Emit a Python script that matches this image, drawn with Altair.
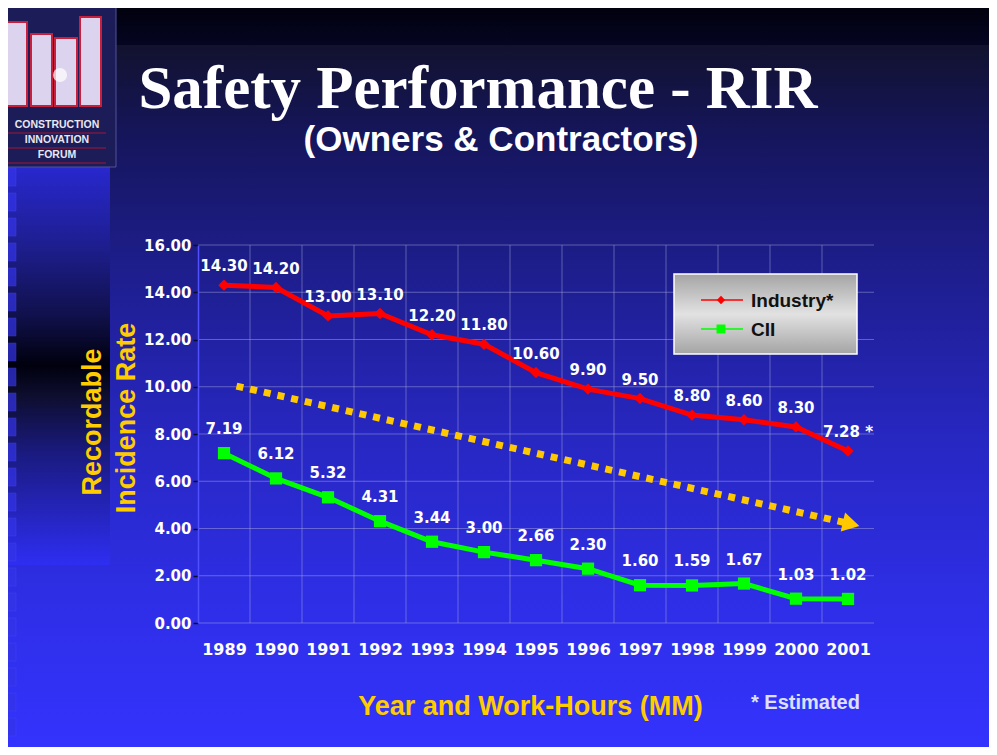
import altair as alt
import pandas as pd

# ---------------- data ----------------
years = [1989, 1990, 1991, 1992, 1993, 1994, 1995, 1996, 1997, 1998, 1999, 2000, 2001]
industry = [14.30, 14.20, 13.00, 13.10, 12.20, 11.80, 10.60, 9.90, 9.50, 8.80, 8.60, 8.30, 7.28]
cii = [7.19, 6.12, 5.32, 4.31, 3.44, 3.00, 2.66, 2.30, 1.60, 1.59, 1.67, 1.03, 1.02]
estimated = [False] * 12 + [True]
series_names = ["Industry*", "CII"]
series_colors = ["#ff0000", "#00ff00"]
y_ticks = [0, 2, 4, 6, 8, 10, 12, 14, 16]
trend_years = [1989.24, 2001.06]
trend_values = [10.03, 4.19]

# ---------------- layout ----------------
W, H = 676, 378
PAD = {"left": 190, "top": 237, "right": 115, "bottom": 124}
OX, OY = 198, 245  # page position of plot origin
PX_PER_UNIT = H / 16.0


def px(x):
    return alt.value(x - OX)


def py(y):
    return alt.value(y - OY)


xscale = alt.Scale(domain=[1988.5, 2001.5], nice=False, zero=False)
yscale = alt.Scale(domain=[0, 16], nice=False)

xaxis = alt.Axis(values=years, format="d", grid=False, ticks=False, tickSize=0, domain=False,
                 labelColor="white", labelFont="DejaVu Sans", labelFontWeight="bold",
                 labelFontSize=16, labelPadding=18, labelFlush=False,
                 title="Year and Work-Hours (MM)", titleColor="#ffcc00",
                 titleFont="Liberation Sans", titleFontWeight="bold", titleFontSize=27,
                 titlePadding=36, titleX=332, zindex=1)
yaxis = alt.Axis(values=y_ticks, format=".2f", grid=False, ticks=True, tickSize=5,
                 tickColor="#0c0c2a", tickWidth=1.5, domain=True, domainColor="#5050ff",
                 domainWidth=1.5, labelColor="white", labelFont="DejaVu Sans",
                 labelFontWeight="bold", labelFontSize=15, labelPadding=2, title=None,
                 zindex=1)


def X(field):
    return alt.X(field, type="quantitative", scale=xscale, axis=xaxis)


def Y(field):
    return alt.Y(field, type="quantitative", scale=yscale, axis=yaxis)


one = pd.DataFrame({"a": [0]})


def grad(stops, vertical=True):
    return alt.LinearGradient(
        gradient="linear",
        stops=[alt.GradientStop(offset=o, color=c) for o, c in stops],
        x1=0, y1=0, x2=0 if vertical else 1, y2=1 if vertical else 0)


# ---------------- background ----------------
bg_top = alt.Chart(one).mark_rect(fill=grad([(0, "#00000a"), (1, "#050522")])).encode(
    x=px(0), x2=px(1000), y=py(0), y2=py(45))
bg_main = alt.Chart(one).mark_rect(fill=grad([
    (0, "#12122e"), (0.12, "#15155a"), (0.3, "#1d1d8a"), (0.55, "#2727c2"),
    (0.8, "#2f2fea"), (1, "#3333ff")])).encode(
    x=px(0), x2=px(1000), y=py(45), y2=py(760))
bg_left = alt.Chart(one).mark_rect(fill=grad([
    (0, "#2828d0"), (0.2, "#1e1e90"), (0.38, "#10104a"), (0.5, "#00000e"),
    (0.58, "#0e0e30"), (0.72, "#1a1a80"), (1, "#2e2ef2")])).encode(
    x=px(0), x2=px(110), y=py(165), y2=py(565))

# decorative squares along the left edge (page rows converted to axis units)
deco_rows = list(range(168, 720, 25))
deco = alt.Chart(pd.DataFrame({"r": deco_rows})).transform_calculate(
    v1=f"({OY + H} - datum.r) / {PX_PER_UNIT}",
    v2=f"({OY + H} - datum.r - 18) / {PX_PER_UNIT}").mark_rect(
    fill="#3434e8", opacity=0.7, stroke="#4a4aff", strokeWidth=0.5).encode(
    x=px(0), x2=px(16), y=Y("v1"), y2="v2:Q")

# logo
logo_box = alt.Chart(one).mark_rect(fill="#1c1c58", stroke="#50509a", strokeWidth=1).encode(
    x=px(0), x2=px(116), y=py(0), y2=py(167))
logo_layers = [logo_box]
for (x0, y0, x1) in [(6, 22, 27), (31, 34, 52), (55, 38, 77), (80, 17, 101)]:
    logo_layers.append(alt.Chart(one).mark_rect(fill="#dcd4ee", stroke="#c8203c", strokeWidth=2).encode(
        x=px(x0), x2=px(x1), y=py(y0), y2=py(106)))
logo_layers.append(alt.Chart(one).mark_point(shape="circle", filled=True, color="#ffffff", size=200).encode(
    x=px(60), y=py(75)))
for i, t in enumerate(["CONSTRUCTION", "INNOVATION", "FORUM"]):
    logo_layers.append(alt.Chart(one).mark_text(text=t, font="Liberation Sans", fontWeight="bold",
                                                fontSize=10.5, color="#e8e8f0").encode(
        x=px(57), y=py(125 + i * 15)))
    logo_layers.append(alt.Chart(one).mark_rule(color="#a01830", strokeWidth=1).encode(
        x=px(6), x2=px(106), y=py(133 + i * 15)))

# ---------------- grid ----------------
hgrid = alt.Chart(pd.DataFrame({"v": y_ticks})).mark_rule(
    color="#b0b0e0", strokeWidth=1, opacity=0.45).encode(
    y=Y("v"), x=alt.value(0), x2=alt.value(W))
vgrid = alt.Chart(pd.DataFrame({"yr": years[1:]})).transform_calculate(
    b="datum.yr - 0.5").mark_rule(color="#b0b0e0", strokeWidth=1, opacity=0.45).encode(
    x=X("b"), y=alt.value(0), y2=alt.value(H))

# ---------------- trend arrow ----------------
trend_df = pd.DataFrame({"yr": trend_years, "v": trend_values})
trend = alt.Chart(trend_df).mark_line(color="#ffc800", strokeWidth=7, strokeDash=[7, 7],
                                      strokeCap="butt").encode(x=X("yr"), y=Y("v"))
arrow = alt.Chart(trend_df.tail(1)).mark_point(shape="triangle-right", filled=True, opacity=1,
                                               color="#ffc800", size=380, angle=13).encode(
    x=X("yr"), y=Y("v"))

# ---------------- series ----------------
ind_labels = [f"{v:.2f}" + (" *" if e else "") for v, e in zip(industry, estimated)]
cii_labels = [f"{v:.2f}" for v in cii]
ind_df = pd.DataFrame({"yr": years, "v": industry, "lab": ind_labels})
cii_df = pd.DataFrame({"yr": years, "v": cii, "lab": cii_labels})

ind_line = alt.Chart(ind_df).mark_line(color=series_colors[0], strokeWidth=5).encode(x=X("yr"), y=Y("v"))
ind_pts = alt.Chart(ind_df).mark_point(shape="diamond", filled=True, opacity=1, size=130,
                                       color=series_colors[0]).encode(x=X("yr"), y=Y("v"))
cii_line = alt.Chart(cii_df).mark_line(color=series_colors[1], strokeWidth=5).encode(x=X("yr"), y=Y("v"))
cii_pts = alt.Chart(cii_df).mark_point(shape="square", filled=True, opacity=1, size=150,
                                       color=series_colors[1]).encode(x=X("yr"), y=Y("v"))

lab_style = dict(font="DejaVu Sans", fontWeight="bold", fontSize=15, color="white",
                 align="center", baseline="middle")
ind_text = alt.Chart(ind_df).mark_text(dy=-19, **lab_style).encode(x=X("yr"), y=Y("v"), text="lab:N")
cii_text = alt.Chart(cii_df).mark_text(dy=-24, **lab_style).encode(x=X("yr"), y=Y("v"), text="lab:N")

# ---------------- legend ----------------
leg_box = alt.Chart(one).mark_rect(fill=grad([(0, "#a4a4a4"), (0.5, "#e2e2e2"), (1, "#a4a4a4")]),
                                   stroke="#ffffff", strokeWidth=1.5).encode(
    x=px(674), x2=px(857), y=py(274), y2=py(354))
leg_layers = [leg_box]
for i, (name, col, shp, sz) in enumerate(zip(series_names, series_colors, ["diamond", "square"], [70, 80])):
    yy = 300 + i * 29
    leg_layers.append(alt.Chart(one).mark_rule(color=col, strokeWidth=1.5).encode(
        x=px(701), x2=px(743), y=py(yy)))
    leg_layers.append(alt.Chart(one).mark_point(shape=shp, filled=True, opacity=1, color=col, size=sz).encode(
        x=px(721), y=py(yy)))
    leg_layers.append(alt.Chart(one).mark_text(text=name, font="Liberation Sans", fontWeight="bold",
                                               fontSize=19, color="#111111", align="left",
                                               baseline="middle").encode(x=px(751), y=py(yy + 1)))

# ---------------- titles ----------------
title = alt.Chart(one).mark_text(text="Safety Performance - RIR", font="Liberation Serif",
                                 fontWeight="bold", fontSize=61, color="white",
                                 align="center", baseline="alphabetic").encode(x=px(478), y=py(108))
subtitle = alt.Chart(one).mark_text(text="(Owners & Contractors)", font="Liberation Sans",
                                    fontWeight="bold", fontSize=35, color="white",
                                    align="center", baseline="alphabetic").encode(x=px(501), y=py(151))
ytitle_style = dict(font="Liberation Sans", fontWeight="bold", fontSize=27, color="#ffcc00",
                    align="center", baseline="middle", angle=270)
ytitle1 = alt.Chart(one).mark_text(text="Recordable", **ytitle_style).encode(x=px(93), y=py(422))
ytitle2 = alt.Chart(one).mark_text(text="Incidence Rate", **ytitle_style).encode(x=px(127), y=py(418))
note = alt.Chart(one).mark_text(text="* Estimated", font="Liberation Sans", fontWeight="bold",
                                fontSize=20, color="#dde0ff", align="left",
                                baseline="middle").encode(x=px(751), y=py(703))

chart = alt.layer(
    bg_top, bg_main, bg_left, deco, *logo_layers,
    hgrid, vgrid, trend, arrow,
    ind_line, ind_pts, cii_line, cii_pts, ind_text, cii_text,
    *leg_layers, title, subtitle, ytitle1, ytitle2, note,
).properties(
    width=W, height=H,
    padding=PAD,
    autosize=alt.AutoSizeParams(type="none"),
    background="#2020a0",
).configure_view(stroke=None)

chart.save("out.html", embed_options={"renderer": "svg", "actions": False})
